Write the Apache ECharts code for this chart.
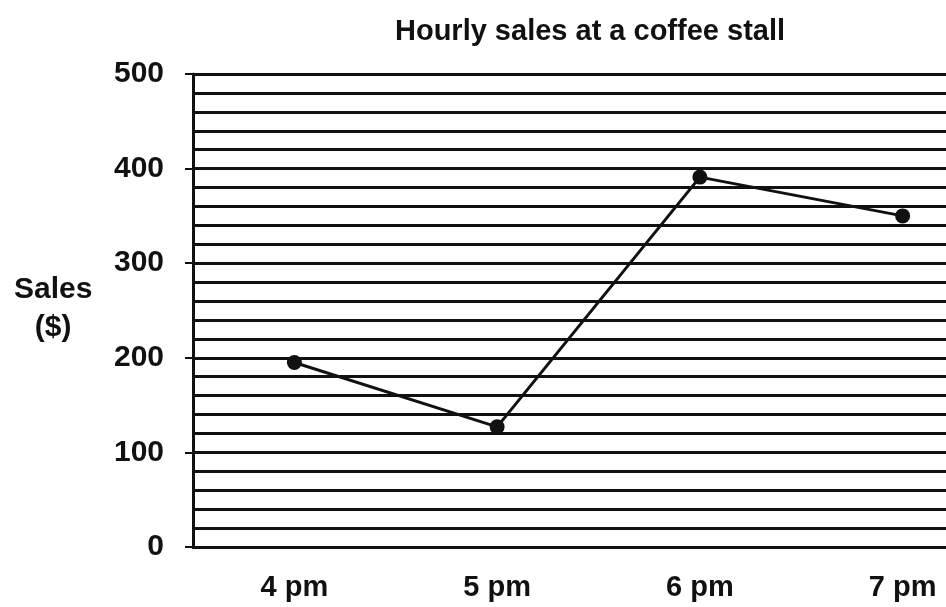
<!DOCTYPE html>
<html>
<head>
<meta charset="utf-8">
<script src="https://cdn.jsdelivr.net/npm/echarts@6/dist/echarts.min.js"></script>
<style>html,body{margin:0;padding:0;background:#fff;overflow:hidden;}#c{width:1010px;height:607px;}</style>
</head>
<body>
<div id="c"></div>
<script>
const categories = ['4 pm', '5 pm', '6 pm', '7 pm'];
const sales = [195, 127, 391, 350];
const titleText = 'Hourly sales at a coffee stall';
const yLabel = 'Sales\n($)';

const chart = echarts.init(document.getElementById('c'));
const ink = '#111';
const font = 'Liberation Sans, Arial, sans-serif';
chart.setOption({
  animation: false,
  backgroundColor: '#fff',
  title: {
    text: titleText, left: 585, top: 12, textAlign: 'center',
    textStyle: { fontFamily: font, fontSize: 29, fontWeight: 'bold', color: ink }
  },
  graphic: [{
    type: 'text', left: 14, top: 271,
    style: { text: yLabel, font: 'bold 30px ' + font, fill: ink, align: 'center', textAlign: 'center', lineHeight: 38 }
  }],
  grid: { left: 193, right: 6, top: 74, bottom: 60 },
  xAxis: {
    type: 'category', data: categories, boundaryGap: true,
    axisLine: { lineStyle: { color: ink, width: 3 } },
    axisTick: { alignWithLabel: true, length: 9, lineStyle: { color: ink, width: 2 } },
    axisLabel: { margin: 26, fontFamily: font, fontSize: 29, fontWeight: 'bold', color: ink }
  },
  yAxis: {
    type: 'value', min: 0, max: 500, interval: 100,
    axisLine: { show: true, lineStyle: { color: ink, width: 3 } },
    axisTick: { show: true, length: 8, lineStyle: { color: ink, width: 2 } },
    axisLabel: { margin: 29, fontFamily: font, fontSize: 30, fontWeight: 'bold', color: ink },
    splitLine: { show: true, lineStyle: { color: ink, width: 3 } },
    minorTick: { show: false, splitNumber: 5 },
    minorSplitLine: { show: true, lineStyle: { color: ink, width: 3 } }
  },
  series: [{
    type: 'line', data: sales,
    symbol: 'circle', symbolSize: 15,
    lineStyle: { color: ink, width: 3 },
    itemStyle: { color: ink }
  }]
});
</script>
</body>
</html>
